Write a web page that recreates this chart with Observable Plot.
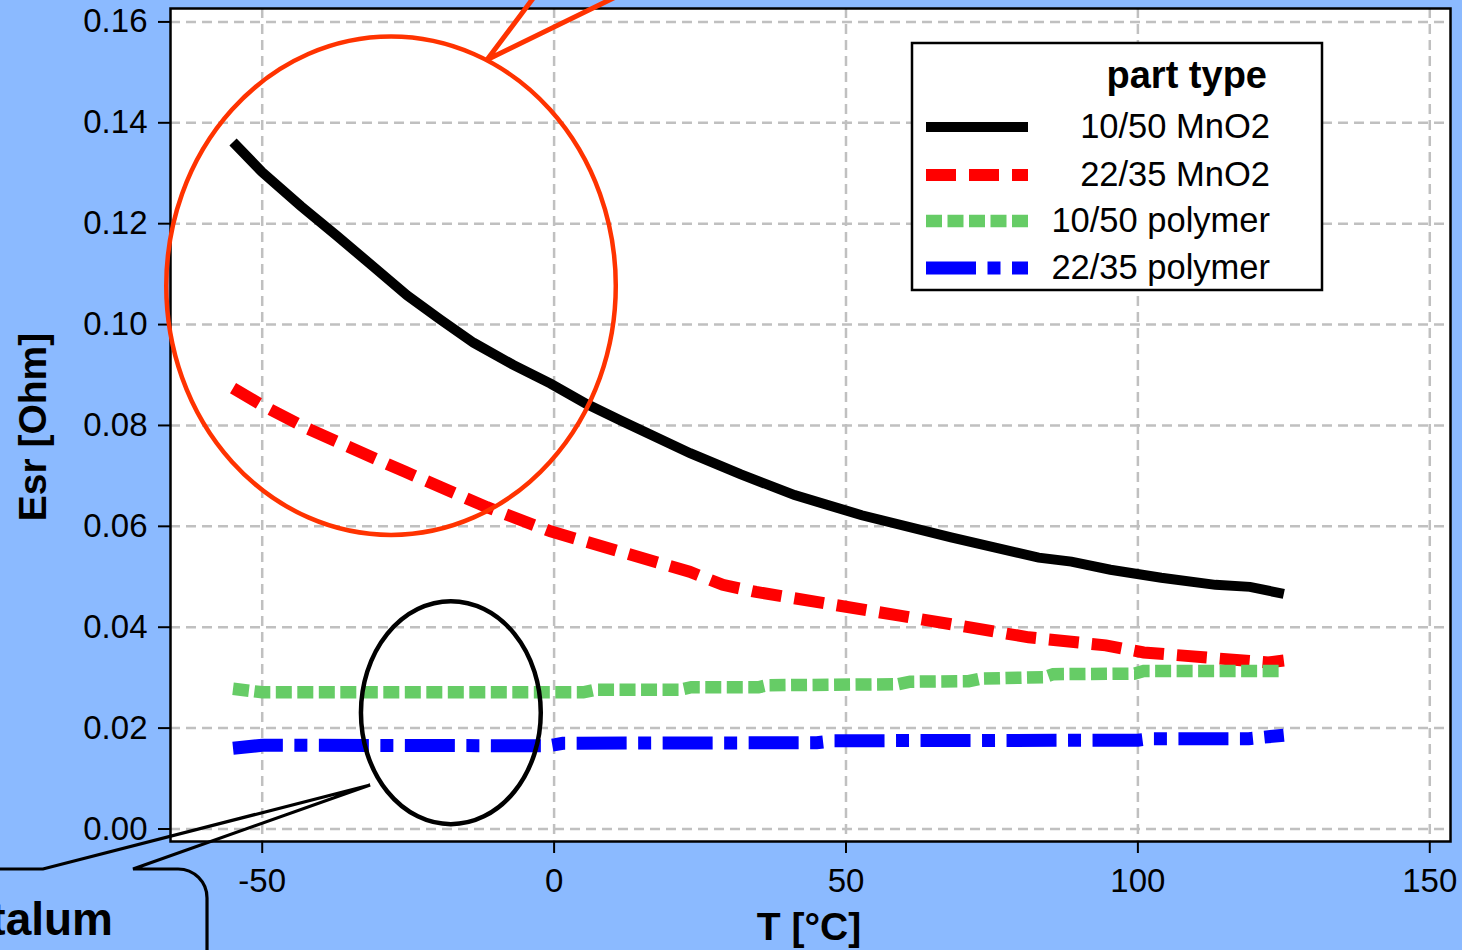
<!DOCTYPE html>
<html><head><meta charset="utf-8">
<script src="https://cdn.jsdelivr.net/npm/d3@7"></script>
<script src="https://cdn.jsdelivr.net/npm/@observablehq/plot@0.6"></script>
<style>
html,body{margin:0;padding:0;background:#8bbaff;overflow:hidden;}
</style></head><body><div id="chart"></div>
<script>
// ---- data ----
const xTicks = [-50, 0, 50, 100, 150];
const xTickLabels = ["-50", "0", "50", "100", "150"];
const yTicks = [0, 0.02, 0.04, 0.06, 0.08, 0.10, 0.12, 0.14, 0.16];
const yTickLabels = ["0.00", "0.02", "0.04", "0.06", "0.08", "0.10", "0.12", "0.14", "0.16"];

const seriesNames = ["10/50 MnO2", "22/35 MnO2", "10/50 polymer", "22/35 polymer"];

const mno2_1050_T   = [-55, -50, -43.4, -37.2, -31, -25.2, -19.5, -13.8, -7, -0.6, 5.5, 11.4, 23.3, 32, 41.2, 52.7, 68, 83, 88.6, 95.3, 104, 113.3, 119.2, 125];
const mno2_1050_Esr = [0.1362, 0.1302, 0.1235, 0.1176, 0.1115, 0.1058, 0.1010, 0.0964, 0.0920, 0.0883, 0.0843, 0.0810, 0.0745, 0.0703, 0.0662, 0.0622, 0.0578, 0.0538, 0.0530, 0.0514, 0.0498, 0.0484, 0.0480, 0.0466];

const mno2_2235_T   = [-55, -50, -42.3, -25.5, -11.5, -0.6, 23.2, 28.9, 34.6, 59.2, 81.3, 94.5, 101, 122.3, 125];
const mno2_2235_Esr = [0.0874, 0.0840, 0.0794, 0.0708, 0.0638, 0.0590, 0.0510, 0.0484, 0.0470, 0.0423, 0.0380, 0.0364, 0.0350, 0.0330, 0.0334];

const poly_1050_T   = [-55, -50, 5, 7, 21.5, 23.5, 35, 36.5, 59, 61, 71, 73, 84, 85.5, 99.5, 101, 125];
const poly_1050_Esr = [0.0278, 0.0271, 0.0271, 0.0276, 0.0276, 0.0281, 0.0281, 0.0285, 0.0287, 0.0292, 0.0293, 0.0298, 0.0301, 0.0307, 0.0308, 0.0313, 0.0313];

const poly_2235_T   = [-55, -50, -1, 1.5, 45, 48, 100, 102, 119, 125];
const poly_2235_Esr = [0.0160, 0.0166, 0.0165, 0.0170, 0.0171, 0.0175, 0.0176, 0.0179, 0.0179, 0.0186];

// annotations (data units)
const redEllipse = {T: -27.85, Esr: 0.1076, rT: 38.5, rEsr: 0.0494};
const blackEllipse = {T: -17.6, Esr: 0.02296, rT: 15.4, rEsr: 0.0221};
const redArrowT = [-2.4, -11.4, 13.2];
const redArrowEsr = [0.1663, 0.1524, 0.1663];
const calloutT = [-96.5, -87.47, -31.43, -72.04, -64.33];
const calloutEsr = [-0.00803, -0.00803, 0.00863, -0.00803, -0.00803];
const calloutCorner = {T: -59.37, Esr: -0.01378, EsrEnd: -0.0261};
const calloutText = {label: "Tantalum", T: -75.47, Esr: -0.02112};

// ---- styles ----
const BG = "#8bbaff";
const styles = [
  {stroke: "#000000", width: 10, dash: undefined},
  {stroke: "#ff0000", width: 12, dash: "30,13"},
  {stroke: "#66cc66", width: 12.5, dash: "16,5.5"},
  {stroke: "#0000ff", width: 13, dash: "50,11.5,13,11.5"}
];
const seriesT = [mno2_1050_T, mno2_2235_T, poly_1050_T, poly_2235_T];
const seriesE = [mno2_1050_Esr, mno2_2235_Esr, poly_1050_Esr, poly_2235_Esr];
const rows = seriesNames.map((n, k) => seriesT[k].map((t, i) => ({series: n, T: t, Esr: seriesE[k][i]})));

const plot = Plot.plot({
  width: 1462,
  height: 950,
  marginLeft: 170,
  marginRight: 12,
  marginTop: 8,
  marginBottom: 109,
  x: {domain: [-65.71, 153.55]},
  y: {domain: [-0.00248, 0.16266]},
  style: {background: BG, fontFamily: "'Liberation Sans', Arial, sans-serif", fontSize: "33px", color: "black"},
  marks: [
    Plot.frame({fill: "white"}),
    Plot.ruleX(xTicks, {stroke: "#c0c0c0", strokeWidth: 2.5, strokeDasharray: "10,6"}),
    Plot.ruleY(yTicks, {stroke: "#c0c0c0", strokeWidth: 2.5, strokeDasharray: "10,6"}),
    ...rows.map((r, k) => Plot.line(r, {
      x: "T", y: "Esr", stroke: styles[k].stroke, strokeWidth: styles[k].width,
      strokeDasharray: styles[k].dash, strokeLinejoin: "miter", strokeLinecap: "butt", strokeMiterlimit: 10
    })),
    Plot.axisX({ticks: xTicks, tickSize: 12, tickPadding: 15, strokeWidth: 2,
      tickFormat: d => xTickLabels[xTicks.indexOf(d)], label: null}),
    Plot.axisY({ticks: yTicks, tickSize: 12, tickPadding: 11, strokeWidth: 2,
      tickFormat: d => yTickLabels[yTicks.indexOf(d)], label: null}),
    Plot.frame({stroke: "black", strokeWidth: 2.5})
  ]
});
document.getElementById("chart").appendChild(plot);

// scales
function scaleFn(s) {
  if (s.apply) return v => s.apply(v);
  const sc = d3.scaleLinear().domain(s.domain).range(s.range);
  return v => sc(v);
}
const X = scaleFn(plot.scale("x"));
const Y = scaleFn(plot.scale("y"));
const svg = d3.select(plot);
const font = "'Liberation Sans', Arial, sans-serif";

// ellipses
[[redEllipse, "#ff3300", 4.5], [blackEllipse, "#000000", 4.5]].forEach(([e, c, w]) => {
  svg.append("ellipse")
    .attr("cx", X(e.T)).attr("cy", Y(e.Esr))
    .attr("rx", X(e.T + e.rT) - X(e.T)).attr("ry", Y(e.Esr - e.rEsr) - Y(e.Esr))
    .attr("fill", "none").attr("stroke", c).attr("stroke-width", w);
});

// red arrow
svg.append("path")
  .attr("d", "M" + redArrowT.map((t, i) => X(t) + "," + Y(redArrowEsr[i])).join("L"))
  .attr("fill", "none").attr("stroke", "#ff3300").attr("stroke-width", 5)
  .attr("stroke-linejoin", "miter");

// callout box
const r = X(calloutCorner.T) - X(calloutT[4]);
const cd = "M" + calloutT.map((t, i) => X(t) + "," + Y(calloutEsr[i])).join("L")
  + `A${r},${r} 0 0 1 ${X(calloutCorner.T)},${Y(calloutCorner.Esr)}`
  + `L${X(calloutCorner.T)},${Y(calloutCorner.EsrEnd)}`;
svg.append("path").attr("d", cd).attr("fill", "none").attr("stroke", "black")
  .attr("stroke-width", 3.2).attr("stroke-linejoin", "miter");
svg.append("text").attr("x", X(calloutText.T)).attr("y", Y(calloutText.Esr))
  .attr("text-anchor", "end").attr("font-family", font).attr("font-weight", "bold")
  .attr("font-size", 46).attr("fill", "black").text(calloutText.label);

// axis titles
svg.append("text").attr("x", 809).attr("y", 940).attr("text-anchor", "middle")
  .attr("font-family", font).attr("font-weight", "bold").attr("font-size", 39).attr("fill", "black")
  .text("T [°C]");
svg.append("text").attr("transform", "translate(46,427) rotate(-90)").attr("text-anchor", "middle")
  .attr("font-family", font).attr("font-weight", "bold").attr("font-size", 39).attr("fill", "black")
  .text("Esr [Ohm]");

// legend
const lg = svg.append("g");
lg.append("rect").attr("x", 912).attr("y", 43).attr("width", 410).attr("height", 247)
  .attr("fill", "white").attr("stroke", "black").attr("stroke-width", 2.5);
lg.append("text").attr("x", 1267).attr("y", 88).attr("text-anchor", "end")
  .attr("font-family", font).attr("font-weight", "bold").attr("font-size", 38).attr("fill", "black")
  .text("part type");
const legY = [127, 175, 221, 268];
const legBase = [138, 186, 232, 279];
seriesNames.forEach((n, k) => {
  lg.append("line").attr("x1", 926).attr("x2", 1028).attr("y1", legY[k]).attr("y2", legY[k])
    .attr("stroke", styles[k].stroke).attr("stroke-width", styles[k].width)
    .attr("stroke-dasharray", styles[k].dash || null).attr("stroke-linecap", "butt");
  lg.append("text").attr("x", 1270).attr("y", legBase[k]).attr("text-anchor", "end")
    .attr("font-family", font).attr("font-size", 34.5).attr("fill", "black").text(n);
});
</script></body></html>
